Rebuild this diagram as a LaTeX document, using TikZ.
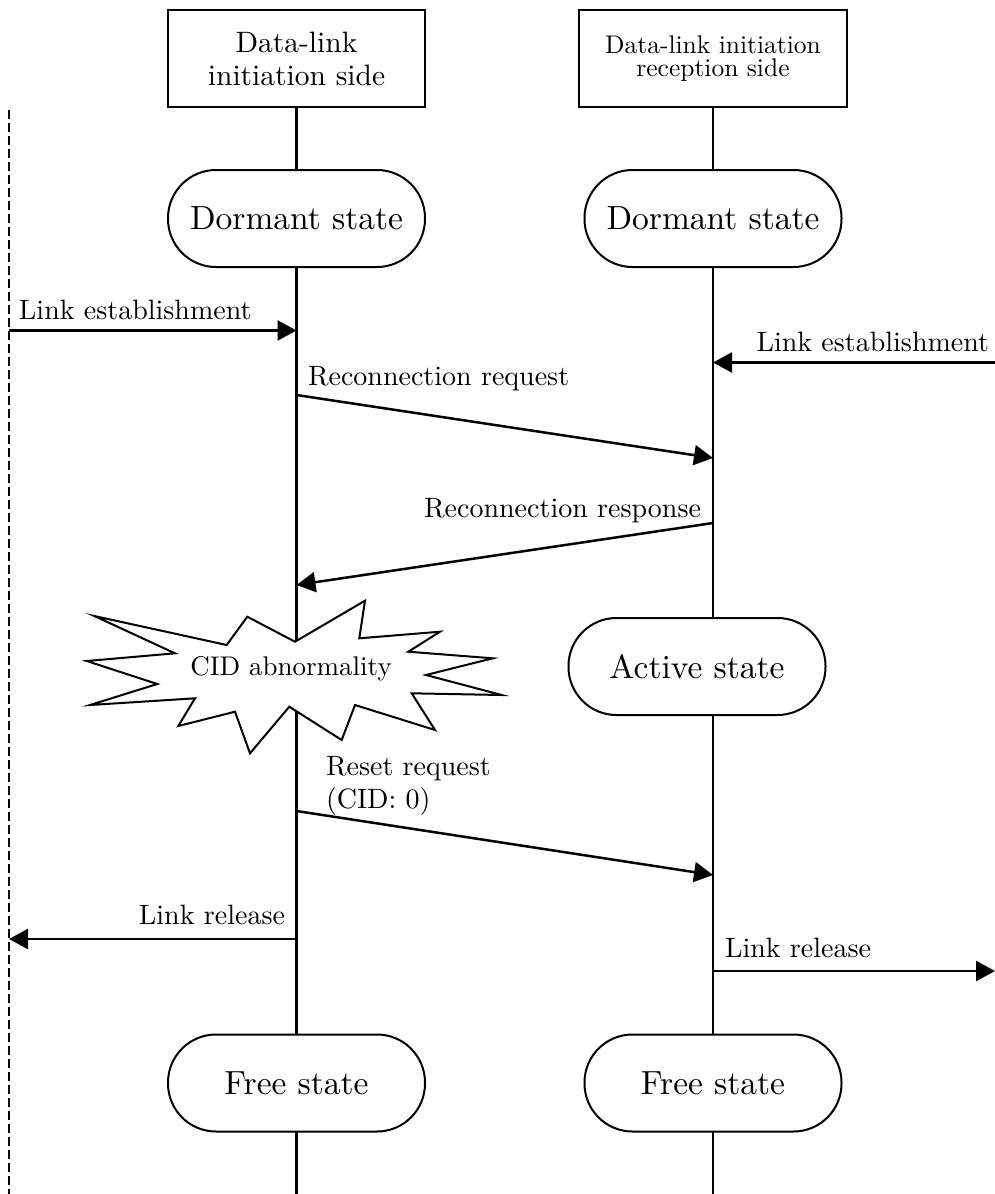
\documentclass[tikz,border=0pt]{standalone}
\usepackage{fontspec}
\setmainfont{lmroman10-regular.otf}
\usetikzlibrary{arrows.meta}
\begin{document}
\begin{tikzpicture}[x=1pt,y=-1pt,
  every node/.style={inner sep=0pt, outer sep=0pt},
  hdr/.style={draw, line width=2pt, minimum height=97pt, align=center},
  stt/.style={draw, line width=2pt, fill=white, minimum width=257pt,
    minimum height=97pt, rounded corners=48pt,
    font=\fontsize{33.5}{40}\selectfont},
  life/.style={line width=2.2pt},
  msg/.style={line width=2.5pt, -{Triangle[length=19pt,width=20pt]}},
  lbl/.style={font=\fontsize{28}{34}\selectfont},
  env/.style={line width=2pt, dash pattern=on 9pt off 4pt},
  burst/.style={draw, line width=2pt, fill=white, line join=miter}
]
\useasboundingbox (0,0) rectangle (995,1194);

% headers of the two sides
\node[hdr, minimum width=257pt, font=\fontsize{29.5}{33}\selectfont]
  (hA) at (296.5,58.5) {Data-link\\initiation side};
\node[hdr, minimum width=268pt, font=\fontsize{25.5}{23}\selectfont]
  (hB) at (713,58.5) {Data-link initiation\\reception side};

% states
\node[stt] (sA1) at (296.5,218.5) {Dormant state};
\node[stt] (sB1) at (713,218.5) {Dormant state};
\node[stt] (sB2) at (697,666.5) {Active state};
\node[stt] (sA3) at (296.5,1083) {Free state};
\node[stt] (sB3) at (713,1083) {Free state};

% end points of the lifelines and of the outer boundary
\coordinate (endA) at (296.5,1194);
\coordinate (endB) at (713,1194);
\coordinate (envT) at (9,110);
\coordinate (envB) at (9,1194);

% lifelines
\draw[life] (hA.south) -- (sA1.north);
\draw[life] (sA1.south) -- (sA3.north);
\draw[life] (sA3.south) -- (endA);
\draw[life] (hB.south) -- (sB1.north);
\draw[life] (sB1.south) -- (sB1.south |- sB2.north);
\draw[life] (sB1.south |- sB2.south) -- (sB3.north);
\draw[life] (sB3.south) -- (endB);

% outer boundary
\draw[env] (envT) -- (envB);

% CID abnormality burst
\draw[burst] (295,641.7) -- (365,600.7) -- (359.3,638.3) -- (440,631.7)
  -- (408.3,651.7) -- (492.7,658.3) -- (426,675) -- (501.7,695)
  -- (411.7,693.3) -- (435,730) -- (355,705) -- (341.7,740)
  -- (289.3,706.7) -- (250,753.3) -- (235,711.7) -- (178.3,726)
  -- (195,698.3) -- (90,705) -- (157.3,684) -- (86.7,661)
  -- (175,653.3) -- (94.3,616) -- (226.7,645) -- (247.3,616.7) -- cycle;
\node[font=\fontsize{27}{32}\selectfont, anchor=base] (cid) at (291,675) {CID abnormality};

% message end points
\coordinate (eEst) at (9,330.5);
\coordinate (aEst) at (296.5,330.5);
\coordinate (rEst) at (995,362.5);
\coordinate (bEst) at (713,362.5);
\coordinate (aReq) at (296.5,395);
\coordinate (bReq) at (713,458);
\coordinate (bRsp) at (713,523);
\coordinate (aRsp) at (296.5,585);
\coordinate (aRst) at (296.5,811);
\coordinate (bRst) at (713,875);
\coordinate (aRel) at (296.5,939);
\coordinate (eRel) at (9,939);
\coordinate (bRel) at (713,971);
\coordinate (rRel) at (995,971);

% messages
\draw[msg] (eEst) -- (aEst);
\draw[msg] (rEst) -- (bEst);
\draw[msg] (aReq) -- (bReq);
\draw[msg] (bRsp) -- (aRsp);
\draw[msg] (aRst) -- (bRst);
\draw[msg] (aRel) -- (eRel);
\draw[msg] (bRel) -- (rRel);

% message labels
\node[lbl, anchor=base west] (tEstA) at (19,319) {Link establishment};
\node[lbl, anchor=base east] (tEstB) at (989,351.5) {Link establishment};
\node[lbl, anchor=base west] (tReq) at (308,385) {Reconnection request};
\node[lbl, anchor=base east] (tRsp) at (701,517) {Reconnection response};
\node[lbl, anchor=base west] (tRst1) at (326,775) {Reset request};
\node[lbl, anchor=base west] (tRst2) at (326,808) {(CID: 0)};
\node[lbl, anchor=base east] (tRelA) at (285,924) {Link release};
\node[lbl, anchor=base west] (tRelB) at (725,957) {Link release};
\end{tikzpicture}
\end{document}
